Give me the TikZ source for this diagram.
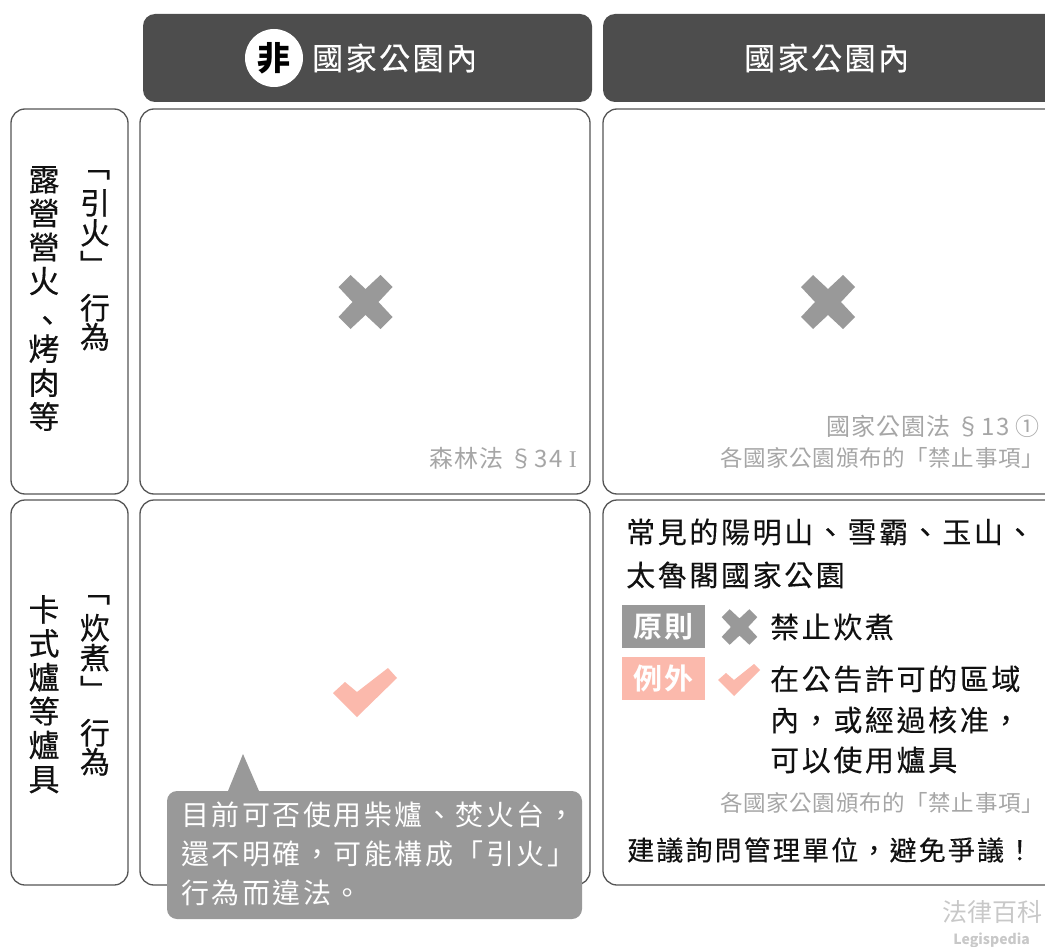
\documentclass[tikz,border=0pt]{standalone}
\usepackage{fontspec}
\setmainfont{Noto Sans CJK TC}
\newfontfamily\bodyfont[LetterSpace=9,FakeBold=0.25]{Noto Sans CJK TC}
\newfontfamily\lastfont[LetterSpace=8,FakeBold=0.25]{Noto Sans CJK TC}
\newfontfamily\callfont[LetterSpace=9]{Noto Sans CJK TC}
\newfontfamily\grayfont[LetterSpace=4]{Noto Sans CJK TC}
\newfontfamily\graytight[LetterSpace=3]{Noto Sans CJK TC}
\newfontfamily\headfont[LetterSpace=8,FakeBold=0.3]{Noto Sans CJK TC}
\newfontfamily\vertfont[FakeBold=0.4]{Noto Sans CJK TC}
\newfontfamily\tagfont[BoldFont={Noto Sans CJK TC Bold},LetterSpace=4]{Noto Sans CJK TC}
\newfontfamily\romanI{Liberation Serif}
\newcommand{\fsz}[1]{\fontsize{#1}{#1}\selectfont}
\definecolor{darkhead}{HTML}{4D4D4D}
\definecolor{cellline}{HTML}{555555}
\definecolor{markgray}{HTML}{999999}
\definecolor{markpink}{HTML}{FBB9AC}
\definecolor{refgray}{HTML}{A6A6A6}
\definecolor{logogray}{HTML}{C8C8C8}
\definecolor{inktext}{HTML}{111111}
\newcommand{\crossshape}{(-27,-15) -- (-15,-27) -- (0,-13) -- (15,-27) -- (27,-15) -- (13,0) -- (27,15) -- (15,27) -- (0,13) -- (-15,27) -- (-27,15) -- (-13,0) -- cycle}
\tikzset{
  x=1pt,y=-1pt,
  head/.style={fill=darkhead,rounded corners=12pt},
  cell/.style={draw=cellline,line width=1.3pt,fill=white,rounded corners=14pt},
  headtext/.style={text=white,inner sep=0pt,font=\headfont\fsz{31}},
  vtext/.style={text=inktext,inner sep=0pt,align=center,anchor=north},
  vleft/.style={vtext,font=\vertfont\fontsize{31}{33.9}\selectfont},
  vright/.style={vtext,font=\vertfont\fontsize{30}{29}\selectfont},
  body/.style={text=inktext,inner sep=0pt,anchor=west,font=\bodyfont\fsz{29}},
  ref/.style={text=refgray,inner sep=0pt,anchor=east,font=\graytight\fsz{22.5}},
  refbig/.style={text=refgray,inner sep=0pt,anchor=east,font=\grayfont\fsz{24}},
  tagbox/.style={text=white,inner sep=0pt,minimum width=83pt,minimum height=43pt,font=\tagfont\bfseries\fsz{29}},
  crossfill/.style={fill=markgray},
  tickfill/.style={fill=markpink},
  calltext/.style={text=white,inner sep=0pt,anchor=west,font=\callfont\fsz{28}},
}
\begin{document}
\begin{tikzpicture}
\useasboundingbox (0,0) rectangle (1045,947);
% headers
\path[head] (143,14) rectangle (592,102);
\path[head] (603,14) rectangle (1060,102);
\node[circle,fill=white,minimum size=58pt,inner sep=0pt] (fei) at (274,58) {};
\node[inner sep=0pt,text=black,font=\fsz{33}\bfseries] (feitext) at (274,58) {非};
\node[headtext,anchor=west] (h1) at (312,58) {國家公園內};
\node[headtext,anchor=west] (h2) at (744,58) {國家公園內};
% cells
\draw[cell] (11,109) rectangle (128,494);
\draw[cell] (11,500) rectangle (128,885);
\draw[cell] (140,109) rectangle (590,494);
\draw[cell] (603,109) rectangle (1060,494);
\draw[cell] (140,500) rectangle (590,885);
\draw[cell] (603,500) rectangle (1060,885);
% row labels
\node[vright] (r1a) at (95,170) {﹁\\[8pt]引\\[1pt]火\\[3pt]﹂\\[14pt]行\\為};
\node[vleft] (r1b) at (44,166) {露\\營\\營\\火\\\raisebox{-15pt}[0pt][0pt]{\hspace*{-12pt}︑}\\烤\\肉\\等};
\node[vright] (r2a) at (95,595) {﹁\\[8pt]炊\\[1pt]煮\\[3pt]﹂\\[14pt]行\\為};
\node[vleft] (r2b) at (44,595) {卡\\式\\爐\\等\\爐\\具};
% marks
\path[crossfill,shift={(365.5,302)}] \crossshape;
\path[crossfill,shift={(828,302)}] \crossshape;
\path[tickfill] (333,693) -- (345,682) -- (357,692) -- (388,668) -- (397,678) -- (357,717) -- cycle;
% refs
\node[refbig] (ref1) at (577,458) {森林法 §34 {\romanI I}};
\node[refbig] (ref2) at (1040,426) {國家公園法 §13 ①};
\node[ref,anchor=west] (ref3) at (720,458) {各國家公園頒布的「禁止事項」\kern-12pt};
% bottom right
\node[body] (t1) at (626,532) {常見的陽明山、雪霸、玉山、};
\node[body] (t2) at (626,575) {太魯閣國家公園};
\node[tagbox,fill=markgray] (tag1) at (663.5,626.5) {原則};
\node[tagbox,fill=markpink] (tag2) at (663.5,678) {例外};
\path[crossfill,shift={(739.5,627)},scale=0.66] \crossshape;
\path[tickfill] (718,680) -- (726,673) -- (734,680) -- (754,664) -- (760,670) -- (734,696) -- cycle;
\node[body] (t3) at (770,627) {禁止炊煮};
\node[body] (t4) at (770,679) {在公告許可的區域};
\node[body] (t5) at (770,720) {內，或經過核准，};
\node[body] (t6) at (770,760) {可以使用爐具};
\node[ref,anchor=west] (ref4) at (720,803) {各國家公園頒布的「禁止事項」\kern-12pt};
\node[text=inktext,inner sep=0pt,anchor=west,font=\lastfont\fsz{27}] (t7) at (627,850) {建議詢問管理單位，避免爭議！};
% callout
\path[fill=markgray] (228,791) -- (243,754) -- (259,791) -- cycle;
\path[fill=markgray,rounded corners=10pt] (167,791) rectangle (582,919);
\node[calltext] (c1) at (181,815) {目前可否使用柴爐、焚火台，};
\node[calltext] (c2) at (181,854) {還不明確，可能構成「引火」};
\node[calltext] (c3) at (181,893) {行為而違法。};
% logo
\node[inner sep=0pt,text=logogray,font=\fsz{25},anchor=east] (logo) at (1043,912) {法律百科};
\node[inner sep=0pt,text=logogray,font=\fsz{14}\bfseries,anchor=east] (logo2) at (1030,940) {Legispedia};
\end{tikzpicture}
\end{document}
